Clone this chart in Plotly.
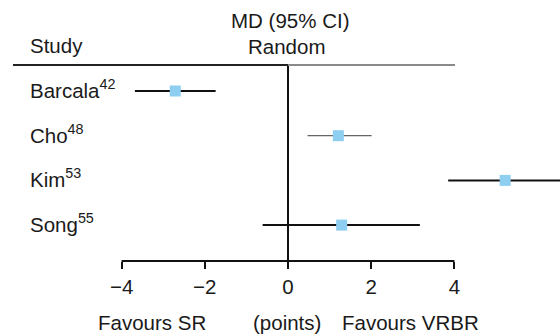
import plotly.graph_objects as go

# ---- data ----
studies = ["Barcala", "Cho", "Kim", "Song"]
refs = ["42", "48", "53", "55"]
md = [-2.71, 1.21, 5.22, 1.29]
ci_low = [-3.68, 0.47, 3.85, -0.61]
ci_high = [-1.74, 2.01, 6.60, 3.17]
tick_vals = [-4, -2, 0, 2, 4]
tick_text = ["\u22124", "\u22122", "0", "2", "4"]

# ---- styling ----
FONT = "Liberation Sans, Arial, Helvetica, sans-serif"
FS = 20.5
TXT = "#1a1a1a"
MARKER = "#8ECEF1"
line_style = {"Cho": ("#666666", 1.3)}

W, H = 560, 335
L, R, T, B = 0, 0, 65, 74
px0 = 288.0       # pixel of x=0
unit = 41.6       # pixels per point
x_range = [(0 - px0) / unit, (W - px0) / unit]
row0, row_step = 91.0, 44.7
plot_h = H - T - B
y_range = [((H - B) - row0) / row_step, (T - row0) / row_step]

fig = go.Figure()
for i, s in enumerate(studies):
    col, wid = line_style.get(s, ("#111111", 2))
    fig.add_trace(go.Scatter(
        x=[md[i]], y=[i], mode="markers",
        marker=dict(symbol="square", size=11, color=MARKER, line=dict(width=0)),
        error_x=dict(type="data", symmetric=False,
                     array=[ci_high[i] - md[i]], arrayminus=[md[i] - ci_low[i]],
                     color=col, thickness=wid, width=0),
        showlegend=False, hoverinfo="skip", cliponaxis=True,
    ))

shapes = [
    dict(type="line", xref="x", yref="paper", x0=0, x1=0, y0=0, y1=1,
         line=dict(color="#111111", width=2)),
    dict(type="line", xref="paper", yref="paper", x0=13 / W, x1=px0 / W, y0=1, y1=1,
         line=dict(color="#222222", width=2)),
    dict(type="line", xref="paper", yref="paper", x0=px0 / W, x1=455 / W, y0=1, y1=1,
         line=dict(color="#8a8a8a", width=2)),
    dict(type="line", xref="x", yref="paper", x0=tick_vals[0], x1=tick_vals[-1], y0=0, y1=0,
         line=dict(color="#111111", width=2)),
]

def ypaper(py):
    return ((H - B) - py) / plot_h

ann = []
for i, s in enumerate(studies):
    ann.append(dict(x=28 / W, xref="paper", y=i, yref="y", xanchor="left", yanchor="middle",
                    yshift=2,
                    text=f"{s}<sup>{refs[i]}</sup>", showarrow=False,
                    font=dict(family=FONT, size=FS, color=TXT)))
ann += [
    dict(x=28 / W, xref="paper", y=ypaper(45.5), yref="paper", xanchor="left", yanchor="middle",
         text="Study", showarrow=False, font=dict(family=FONT, size=FS, color=TXT)),
    dict(x=290 / W, xref="paper", y=ypaper(21), yref="paper", xanchor="center", yanchor="middle",
         text="MD (95% CI)", showarrow=False, font=dict(family=FONT, size=FS, color=TXT)),
    dict(x=287 / W, xref="paper", y=ypaper(46), yref="paper", xanchor="center", yanchor="middle",
         text="Random", showarrow=False, font=dict(family=FONT, size=FS, color=TXT)),
    dict(x=208 / W, xref="paper", y=ypaper(322), yref="paper", xanchor="right", yanchor="middle",
         text="Favours SR", showarrow=False, font=dict(family=FONT, size=FS, color=TXT)),
    dict(x=287 / W, xref="paper", y=ypaper(322), yref="paper", xanchor="center", yanchor="middle",
         text="(points)", showarrow=False, font=dict(family=FONT, size=FS, color=TXT)),
    dict(x=340 / W, xref="paper", y=ypaper(322), yref="paper", xanchor="left", yanchor="middle",
         text="Favours VRBR", showarrow=False, font=dict(family=FONT, size=FS, color=TXT)),
]

fig.update_layout(
    width=W, height=H,
    margin=dict(l=L, r=R, t=T, b=B, pad=0),
    paper_bgcolor="white", plot_bgcolor="white",
    shapes=shapes, annotations=ann,
    xaxis=dict(range=x_range, showgrid=False, zeroline=False, showline=False,
               tickmode="array", tickvals=tick_vals, ticktext=tick_text,
               ticks="outside", ticklen=7, tickwidth=2, tickcolor="#111111",
               tickfont=dict(family=FONT, size=FS, color=TXT), fixedrange=True),
    yaxis=dict(range=y_range, showgrid=False, zeroline=False, showline=False,
               showticklabels=False, ticks="", fixedrange=True),
)

fig.write_html("out.html", config={"displayModeBar": False},
               post_script="document.body.style.margin='0';document.body.style.overflow='hidden';")
